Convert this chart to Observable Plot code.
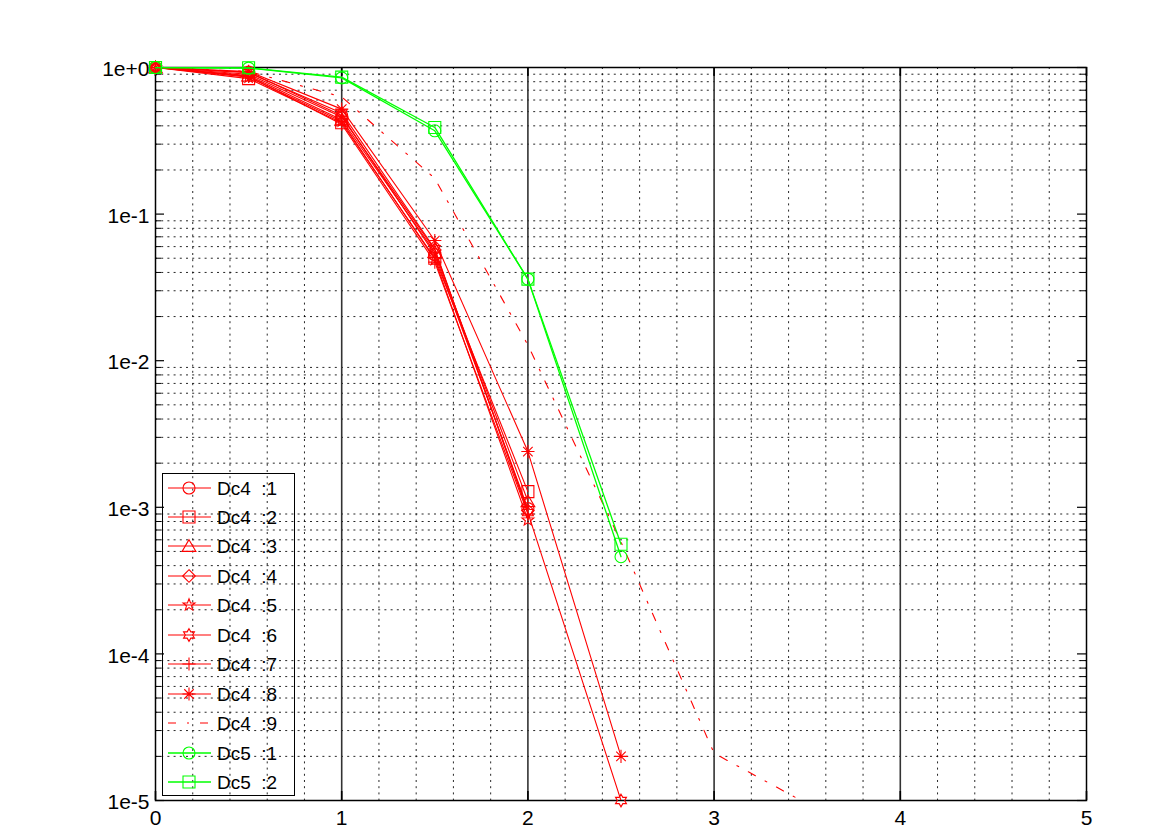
<!DOCTYPE html>
<html><head><meta charset="utf-8">
<script src="https://cdn.jsdelivr.net/npm/d3@7"></script>
<script src="https://cdn.jsdelivr.net/npm/@observablehq/plot@0.6"></script>
<style>
html,body{margin:0;padding:0;background:#fff;}
#wrap{position:relative;width:1175px;height:835px;font-family:"Liberation Sans",Arial,sans-serif;}
#wrap > svg{position:absolute;left:0;top:0;}
#wrap > svg text{font-size:21px !important;font-family:"Liberation Sans",Arial,sans-serif !important;fill:#000;}
#legend{position:absolute;left:162px;top:473px;width:133px;height:323px;border:1px solid #000;box-sizing:border-box;}
.row{position:absolute;left:0;height:20px;width:130px;}
.row svg{position:absolute;left:4px;top:0;}
.row span{position:absolute;left:54px;top:1px;line-height:20px;font-size:19px;color:#000;white-space:pre;}
</style></head><body><div id="wrap"></div>
<script>
// ---- data ----
const xs  = [0, 0.5, 1, 1.5, 2, 2.5];
const xs9 = [0, 0.5, 1, 1.5, 2, 2.5, 3, 3.5];
const dc4_1 = [1, 0.93, 0.47, 0.053, 0.00098, null];
const dc4_2 = [1, 0.84, 0.42, 0.050, 0.00128, null];
const dc4_3 = [1, 0.88, 0.44, 0.055, 0.00110, null];
const dc4_4 = [1, 0.90, 0.46, 0.057, 0.00095, null];
const dc4_5 = [1, 0.86, 0.43, 0.049, 0.00082, null];
const dc4_6 = [1, 0.92, 0.49, 0.058, 0.00092, 0.00001];
const dc4_7 = [1, 0.87, 0.41, 0.047, 0.00090, null];
const dc4_8 = [1, 0.94, 0.52, 0.066, 0.0024, 0.00002];
const dc4_9 = [1, 0.94, 0.63, 0.175, 0.0128, 0.00058, 0.000021, 0.0000095];
const dc5_1 = [1, 0.99, 0.85, 0.37, 0.036, 0.00046];
const dc5_2 = [1, 0.995, 0.86, 0.39, 0.036, 0.00056];
const seriesNames = ["Dc4  :1","Dc4  :2","Dc4  :3","Dc4  :4","Dc4  :5","Dc4  :6","Dc4  :7","Dc4  :8","Dc4  :9","Dc5  :1","Dc5  :2"];
const xTicks = [0, 1, 2, 3, 4, 5];
const yTicks = [1e-5, 1e-4, 1e-3, 1e-2, 1e-1, 1];

// ---- marker shapes ----
const rad = s => Math.sqrt(s / Math.PI);
function poly(ctx, pts){ ctx.moveTo(pts[0][0], pts[0][1]); for (let i = 1; i < pts.length; i++) ctx.lineTo(pts[i][0], pts[i][1]); ctx.closePath(); }
function star(ctx, n, R, r){ const pts=[]; for(let i=0;i<2*n;i++){ const a=-Math.PI/2+i*Math.PI/n; const q=i%2?r:R; pts.push([q*Math.cos(a), q*Math.sin(a)]);} poly(ctx, pts); }
const symCircle = {draw(c,s){const R=rad(s); c.moveTo(R,0); c.arc(0,0,R,0,2*Math.PI);}};
const symSquare = {draw(c,s){const R=rad(s); poly(c,[[-R,-R],[R,-R],[R,R],[-R,R]]);}};
const symTriangle = {draw(c,s){const R=rad(s); poly(c,[[0,-1.05*R],[1.15*R,0.9*R],[-1.15*R,0.9*R]]);}};
const symDiamond = {draw(c,s){const R=rad(s)*1.05; poly(c,[[0,-R],[R,0],[0,R],[-R,0]]);}};
const symPenta = {draw(c,s){const R=rad(s)*1.05; star(c,5,R,R*0.42);}};
const symHexa = {draw(c,s){const R=rad(s)*1.05; star(c,6,R,R*0.58);}};
const symPlus = {draw(c,s){const R=rad(s)*1.1; c.moveTo(-R,0); c.lineTo(R,0); c.moveTo(0,-R); c.lineTo(0,R);}};
const symAst = {draw(c,s){const R=rad(s)*1.1, d=R*0.72; c.moveTo(-R,0); c.lineTo(R,0); c.moveTo(0,-R); c.lineTo(0,R); c.moveTo(-d,-d); c.lineTo(d,d); c.moveTo(-d,d); c.lineTo(d,-d);}};

const RED = "#ff0000", GREEN = "#00ff00";
const DASHDOT = "8,11,2,11";
const series = [
  {name: seriesNames[0], x: xs, y: dc4_1, color: RED, sym: symCircle},
  {name: seriesNames[1], x: xs, y: dc4_2, color: RED, sym: symSquare},
  {name: seriesNames[2], x: xs, y: dc4_3, color: RED, sym: symTriangle},
  {name: seriesNames[3], x: xs, y: dc4_4, color: RED, sym: symDiamond},
  {name: seriesNames[4], x: xs, y: dc4_5, color: RED, sym: symPenta},
  {name: seriesNames[5], x: xs, y: dc4_6, color: RED, sym: symHexa},
  {name: seriesNames[6], x: xs, y: dc4_7, color: RED, sym: symPlus},
  {name: seriesNames[7], x: xs, y: dc4_8, color: RED, sym: symAst},
  {name: seriesNames[8], x: xs9, y: dc4_9, color: RED, sym: null, dash: DASHDOT},
  {name: seriesNames[9], x: xs, y: dc5_1, color: GREEN, sym: symCircle, sw: 1.3},
  {name: seriesNames[10], x: xs, y: dc5_2, color: GREEN, sym: symSquare, sw: 1.3}
];
const rowsOf = s => s.x.map((x, i) => ({x, y: s.y[i]})).filter(d => d.y != null);

// ---- grid helpers ----
const xMinor = d3.range(0, 25).map(i => i * 0.2).filter(v => v > 0 && Math.abs(v - Math.round(v)) > 1e-6);
const xMajorInner = xTicks.filter(v => v > 0 && v < 5);
const yMinor = [];
for (let k = -5; k < 0; k++) for (let m = 2; m <= 9; m++) yMinor.push(m * Math.pow(10, k));
const pxX = 931 / 5, pxDec = 733 / 5;
const tx = px => px / pxX;            // px -> x units
const ty = px => Math.pow(10, px / pxDec); // px -> y factor
const fmt = d => { const e = Math.round(Math.log10(d)); return "1e" + (e >= 0 ? "+" : "") + e; };

const marks = [
  Plot.ruleX(xMinor, {stroke: "#000", strokeWidth: 1, strokeDasharray: "2,4.2", strokeOpacity: 0.85}),
  Plot.ruleY(yMinor, {stroke: "#000", strokeWidth: 1, strokeDasharray: "2,4.2", strokeOpacity: 0.85}),
  Plot.ruleX(xMajorInner, {stroke: "#333", strokeWidth: 1.6}),
  // inward ticks
  Plot.ruleY(yMinor, {x1: 0, x2: tx(6), stroke: "#000", strokeWidth: 1}),
  Plot.ruleY(yMinor, {x1: 5 - tx(6), x2: 5, stroke: "#000", strokeWidth: 1}),
  Plot.ruleY(yTicks, {x1: 0, x2: tx(9), stroke: "#000", strokeWidth: 1.2}),
  Plot.ruleY(yTicks, {x1: 5 - tx(9), x2: 5, stroke: "#000", strokeWidth: 1.2}),
  Plot.ruleX(xTicks, {y1: 1e-5, y2: 1e-5 * ty(9), stroke: "#000", strokeWidth: 1.6}),
  Plot.ruleX(xTicks, {y1: 1 / ty(9), y2: 1, stroke: "#000", strokeWidth: 1.6}),
  Plot.frame({stroke: "#000", strokeWidth: 1.5}),
  Plot.axisX({ticks: xTicks, tickSize: 0, tickPadding: 10, tickFormat: d => String(d), fontSize: 21}),
  Plot.axisY({ticks: yTicks, tickSize: 0, tickPadding: 6, tickFormat: fmt, fontSize: 21, dy: 2})
];
for (const s of series) {
  marks.push(Plot.line(rowsOf(s), {x: "x", y: "y", stroke: s.color, strokeWidth: s.sw || 1.1,
    strokeDasharray: s.dash, clip: true, curve: "linear"}));
  if (s.sym) marks.push(Plot.dot(rowsOf(s), {x: "x", y: "y", symbol: s.sym, r: 6, stroke: s.color, fill: "none", strokeWidth: 1.1}));
}

const chart = Plot.plot({
  width: 1175, height: 835,
  marginLeft: 155, marginRight: 89, marginTop: 67, marginBottom: 35,
  x: {domain: [0, 5], label: null},
  y: {type: "log", domain: [1e-5, 1], label: null},
  style: {fontFamily: "'Liberation Sans', Arial, sans-serif", fontSize: "21px", color: "#000", background: "transparent", overflow: "visible"},
  marks
});
const wrap = document.getElementById("wrap");
wrap.appendChild(chart);

// ---- legend ----
const legend = document.createElement("div");
legend.id = "legend";
series.forEach((s, i) => {
  const row = document.createElement("div");
  row.className = "row";
  row.style.top = (3.5 + i * 29.45) + "px";
  let mk = "";
  if (s.sym) { const p = d3.path(); s.sym.draw(p, 36 * Math.PI); mk = `<path d="${p.toString()}" transform="translate(22,10)" fill="none" stroke="${s.color}" stroke-width="1.1"/>`; }
  row.innerHTML = `<svg width="46" height="20"><line x1="1" x2="44" y1="10" y2="10" stroke="${s.color}" stroke-width="${s.sw || 1.1}" ${s.dash ? `stroke-dasharray="${s.dash}"` : ""}/>${mk}</svg><span>${s.name}</span>`;
  legend.appendChild(row);
});
wrap.appendChild(legend);
</script></body></html>
